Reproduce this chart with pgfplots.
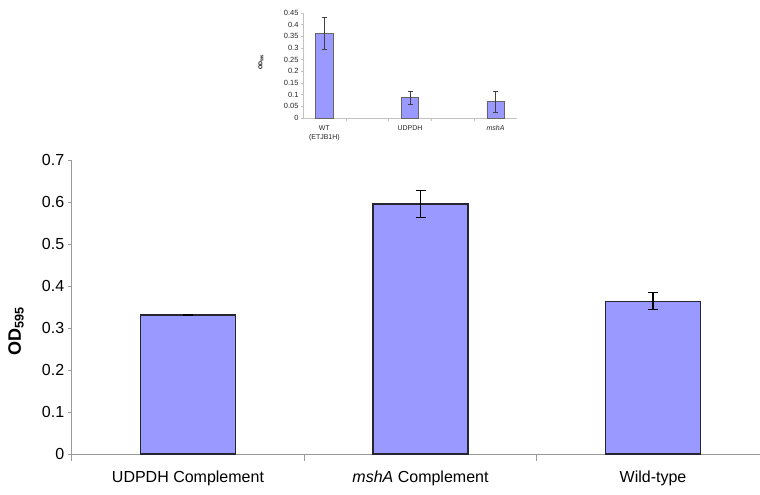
\documentclass[border=0pt]{standalone}
\usepackage{pgfplots}
\pgfplotsset{compat=1.18}
\usepackage{fontspec}
\setmainfont{Liberation Sans}
\definecolor{barfill}{HTML}{9999FF}
\definecolor{barline}{HTML}{262633}
\definecolor{axgray}{HTML}{9A9A9A}
\begin{document}
\begin{tikzpicture}[x=1pt,y=1pt]
\path[use as bounding box] (0,0) rectangle (760,495);
% main chart
\begin{axis}[
  at={(71.7pt,41pt)}, anchor=south west,
  scale only axis, width=688.3pt, height=294pt,
  xmin=-0.5, xmax=2.46, ymin=0, ymax=0.7,
  axis lines=left, axis line style={-, draw=axgray, line width=0.8pt},
  ytick={0,0.1,0.2,0.3,0.4,0.5,0.6,0.7},
  /pgf/number format/fixed, /pgf/number format/precision=2,
  /pgf/number format/assume math mode=true,
  yticklabel style={font=\fontsize{16}{19}\selectfont, text=black},
  xtick={0,1,2},
  xticklabels={UDPDH Complement, \textit{mshA} Complement, Wild-type},
  xticklabel style={font=\fontsize{16}{19}\selectfont, text=black, yshift=-9pt},
  minor xtick={-0.5,0.5,1.5},
  major x tick style={draw=none},
  tick align=outside, major tick length=4pt, minor tick length=7pt,
  tick style={draw=axgray, line width=0.8pt},
  ylabel={\fontsize{18}{21}\selectfont\bfseries OD\textsubscript{595}},
  ylabel style={at={(axis description cs:-0.081,0.418)}, anchor=center},
  ybar, bar width=95pt,
  clip=false,
]
\addplot[fill=barfill, draw=barline, line width=1.2pt,
  error bars/.cd, y dir=both, y explicit,
  error bar style={black, line width=1.1pt},
  error mark options={black, line width=1.1pt, mark size=5pt, rotate=90}]
  coordinates {(0,0.331) +- (0,0.002) (1,0.595) +- (0,0.032) (2,0.364) +- (0,0.020)};
\end{axis}
% inset chart
\begin{axis}[
  at={(303pt,377pt)}, anchor=south west,
  scale only axis, width=214pt, height=105pt,
  xmin=-0.5, xmax=4.5, ymin=0, ymax=0.45,
  axis lines=left, axis line style={-, draw=axgray!60, line width=0.5pt},
  ytick={0,0.05,0.1,0.15,0.2,0.25,0.3,0.35,0.4,0.45},
  /pgf/number format/fixed, /pgf/number format/precision=2,
  /pgf/number format/assume math mode=true,
  yticklabel style={font=\fontsize{7.5}{9}\selectfont, text=black!85, xshift=1pt},
  xtick={0,2,4},
  xticklabels={WT\\(ETJB1H), UDPDH, \textit{mshA}},
  xticklabel style={font=\fontsize{7}{9}\selectfont, text=black!85, align=center, yshift=-2pt},
  minor xtick={0.5,1.5,2.5,3.5},
  major x tick style={draw=none},
  tick align=outside, major tick length=2pt, minor tick length=3pt,
  tick style={draw=axgray!60, line width=0.5pt},
  ylabel={\fontsize{5.5}{7}\selectfont\bfseries OD\textsubscript{595}},
  ylabel style={at={(axis description cs:-0.196,0.53)}, anchor=center},
  ybar, bar width=17.5pt,
  clip=false,
]
\addplot[fill=barfill, draw=black!60, line width=0.6pt,
  error bars/.cd, y dir=both, y explicit,
  error bar style={black!75, line width=0.5pt},
  error mark options={black!75, line width=0.5pt, mark size=2.5pt, rotate=90}]
  coordinates {(0,0.363) +- (0,0.069) (2,0.087) +- (0,0.028) (4,0.070) +- (0,0.046)};
\end{axis}
\end{tikzpicture}
\end{document}
